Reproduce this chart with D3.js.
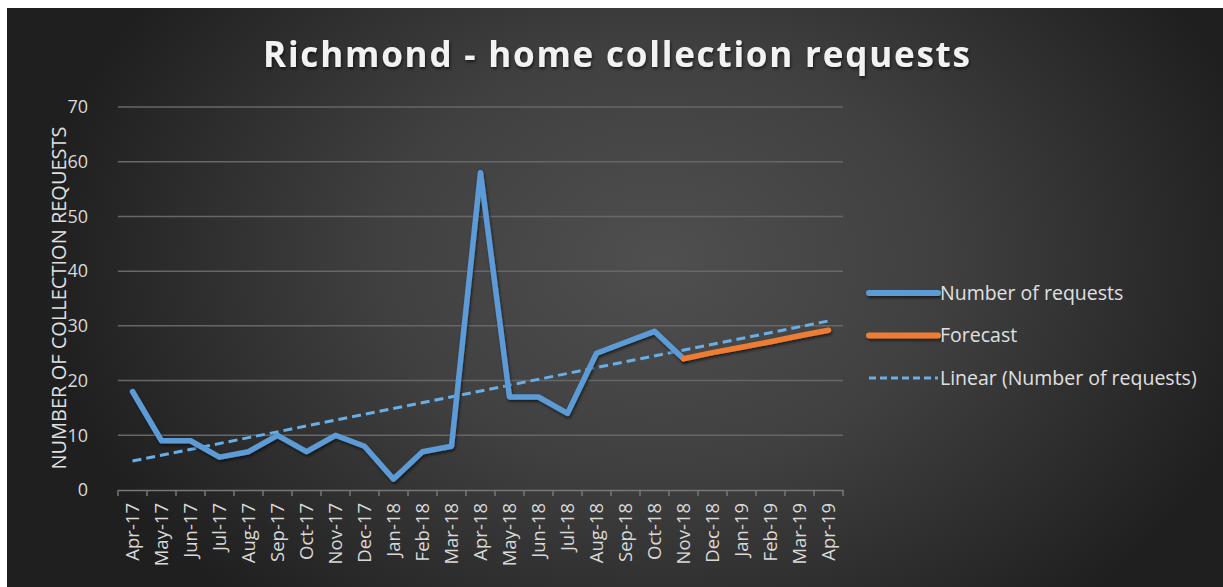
<!DOCTYPE html>
<meta charset="utf-8">
<title>Richmond - home collection requests</title>
<style>
body { margin: 0; background: #fff; }
svg { display: block; }
</style>
<body>
<div id="chart"></div>
<script src="https://d3js.org/d3.v7.min.js"></script>
<script>

// months on the category axis
var months = ["Apr-17","May-17","Jun-17","Jul-17","Aug-17","Sep-17","Oct-17","Nov-17","Dec-17",
  "Jan-18","Feb-18","Mar-18","Apr-18","May-18","Jun-18","Jul-18","Aug-18","Sep-18","Oct-18",
  "Nov-18","Dec-18","Jan-19","Feb-19","Mar-19","Apr-19"];

// actual requests, Apr-17 .. Nov-18
var requests = [18, 9, 9, 6, 7, 10, 7, 10, 8, 2, 7, 8, 58, 17, 17, 14, 25, 27, 29, 24];

// forecast, Nov-18 .. Apr-19
var forecastMonths = ["Nov-18","Dec-18","Jan-19","Feb-19","Mar-19","Apr-19"];
var forecast = [24, 25.1, 26.1, 27.1, 28.2, 29.2];

// linear trend end points (Apr-17, Apr-19)
var trendMonths = ["Apr-17", "Apr-19"];
var trend = [5.3, 30.9];

var yTicks = [0, 10, 20, 30, 40, 50, 60, 70];

var W = 1223, H = 587;
var margin = {top: 107, left: 118};
var width = 843 - margin.left,
    height = 490 - margin.top;
var font = "'Open Sans', sans-serif";

var svg = d3.select("#chart").append("svg")
  .attr("width", W).attr("height", H);

var defs = svg.append("defs");
var grad = defs.append("radialGradient")
  .attr("id", "bg")
  .attr("gradientUnits", "userSpaceOnUse")
  .attr("cx", 660).attr("cy", 260).attr("r", 620)
  .attr("gradientTransform", "translate(660,260) scale(1,0.75) translate(-660,-260)");
grad.append("stop").attr("offset", "0%").attr("stop-color", "#4f4f4f");
grad.append("stop").attr("offset", "45%").attr("stop-color", "#404040");
grad.append("stop").attr("offset", "100%").attr("stop-color", "#1f1f1f");

// drop shadow, in user space so flat lines keep it too
var shadow = defs.append("filter").attr("id", "shadow")
  .attr("filterUnits", "userSpaceOnUse")
  .attr("x", -W).attr("y", -H).attr("width", 3 * W).attr("height", 3 * H);
shadow.append("feDropShadow").attr("dx", 1).attr("dy", 2).attr("stdDeviation", 1.5)
  .attr("flood-color", "#000").attr("flood-opacity", 0.6);

svg.append("rect")
  .attr("x", 7).attr("y", 8).attr("width", W - 7).attr("height", H - 8)
  .attr("fill", "url(#bg)");

// title
svg.append("text")
  .attr("x", 263).attr("y", 67)
  .attr("textLength", 707)
  .attr("lengthAdjust", "spacing")
  .attr("fill", "#f2f2f2")
  .attr("filter", "url(#shadow)")
  .style("font-family", font)
  .style("font-weight", "700")
  .style("font-size", "35px")
  .text("Richmond - home collection requests");

var g = svg.append("g")
  .attr("transform", "translate(" + margin.left + "," + margin.top + ")");

var x = d3.scaleBand().domain(months).range([0, width]);
var xc = function (m) { return x(m) + x.bandwidth() / 2; };
var y = d3.scaleLinear().domain([0, 70]).range([height, 0]);

// gridlines
g.append("g")
  .selectAll("line")
  .data(yTicks.filter(function (d) { return d > 0; }))
  .enter().append("line")
    .attr("x1", 0).attr("x2", width)
    .attr("y1", function (d) { return y(d); })
    .attr("y2", function (d) { return y(d); })
    .attr("stroke", "#676767").attr("stroke-width", 1.5);

// y axis labels
var yAxis = g.append("g")
  .call(d3.axisLeft(y).tickValues(yTicks).tickSize(0).tickPadding(30));
yAxis.select(".domain").remove();
yAxis.selectAll("text")
  .attr("fill", "#d9d9d9")
  .style("font-family", font)
  .style("font-size", "18px");

// x axis
var xAxis = g.append("g")
  .attr("transform", "translate(0," + height + ")")
  .call(d3.axisBottom(x).tickSize(0));
xAxis.select(".domain").attr("stroke", "#777").attr("stroke-width", 1.5);
xAxis.selectAll(".tick line").remove();
xAxis.selectAll(".tick text")
  .attr("fill", "#d9d9d9")
  .attr("transform", "rotate(-90)")
  .attr("text-anchor", "end")
  .attr("x", -13).attr("y", 0).attr("dy", "0.35em")
  .style("font-family", font)
  .style("font-size", "18.5px");
// tick marks between categories
xAxis.append("g").selectAll("line")
  .data(d3.range(months.length + 1))
  .enter().append("line")
    .attr("x1", function (i) { return i * x.step(); })
    .attr("x2", function (i) { return i * x.step(); })
    .attr("y1", 0).attr("y2", 6)
    .attr("stroke", "#777").attr("stroke-width", 1.5);

// y axis title
svg.append("text")
  .attr("transform", "translate(66,298) rotate(-90)")
  .attr("text-anchor", "middle")
  .attr("fill", "#e0e0e0")
  .style("font-family", font)
  .style("font-size", "20px")
  .text("NUMBER OF COLLECTION REQUESTS");

var line = d3.line()
  .x(function (d) { return xc(d[0]); })
  .y(function (d) { return y(d[1]); });

// trend
g.append("path")
  .datum(trendMonths.map(function (m, i) { return [m, trend[i]]; }))
  .attr("d", line)
  .attr("fill", "none")
  .attr("stroke", "#6aaee6")
  .attr("stroke-width", 3)
  .attr("stroke-dasharray", "9,5");

// actual requests
g.append("path")
  .datum(requests.map(function (v, i) { return [months[i], v]; }))
  .attr("d", line)
  .attr("fill", "none")
  .attr("stroke", "#5b9bd5")
  .attr("stroke-width", 5.5)
  .attr("stroke-linejoin", "round")
  .attr("stroke-linecap", "round")
  .attr("filter", "url(#shadow)");

// forecast
g.append("path")
  .datum(forecastMonths.map(function (m, i) { return [m, forecast[i]]; }))
  .attr("d", line)
  .attr("fill", "none")
  .attr("stroke", "#ed7d31")
  .attr("stroke-width", 5.5)
  .attr("stroke-linecap", "round")
  .attr("filter", "url(#shadow)");

// legend
var legendItems = [
  {name: "Number of requests", color: "#5b9bd5", w: 6, dash: null},
  {name: "Forecast", color: "#ed7d31", w: 6, dash: null},
  {name: "Linear (Number of requests)", color: "#6aaee6", w: 3, dash: "7,4"}
];
var legend = svg.append("g").attr("transform", "translate(869,293)");
legendItems.forEach(function (d, i) {
  var row = legend.append("g").attr("transform", "translate(0," + i * 42.5 + ")");
  row.append("line")
    .attr("x1", 0).attr("x2", 69)
    .attr("stroke", d.color).attr("stroke-width", d.w)
    .attr("stroke-linecap", d.dash ? "butt" : "round")
    .attr("stroke-dasharray", d.dash)
    .attr("filter", d.dash ? null : "url(#shadow)");
  row.append("text")
    .attr("x", 71).attr("dy", "0.35em")
    .attr("fill", "#e0e0e0")
    .style("font-family", font)
    .style("font-size", "19.5px")
    .text(d.name);
});

</script>
</body>
